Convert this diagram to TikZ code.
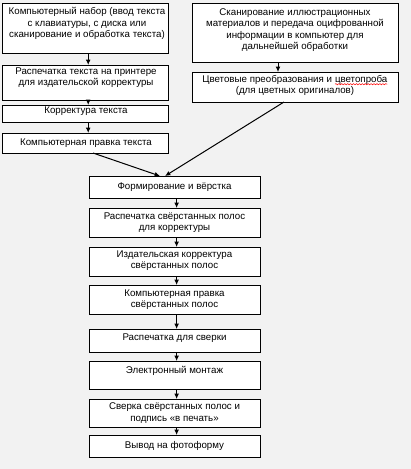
\documentclass[tikz,border=0pt]{standalone}
\usepackage{fontspec}
\setmainfont{Liberation Sans}
\usetikzlibrary{arrows.meta,decorations.pathmorphing}
\definecolor{bggray}{HTML}{F2F2F2}
\newcommand\redwave[1]{\tikz[baseline=(w.base)]{\node[inner sep=0pt,outer sep=0pt,font=\fontsize{7.3}{8.6}\selectfont] (w) {#1};\draw[red,line width=0.4pt,decorate,decoration={snake,amplitude=0.45pt,segment length=2.2pt}] ([yshift=-1.4pt]w.base west) -- ([yshift=-1.4pt]w.base east);}}
\tikzset{
  boxst/.style={draw=black,fill=white,line width=0.75pt,inner sep=0pt,outer sep=0pt},
  txt/.style={inner sep=0pt,align=center,font=\fontsize{7.3}{8.6}\selectfont},
  arr/.style={draw=black,line width=0.75pt,-{Latex[length=4pt,width=3.6pt]}}
}
\begin{document}
\begin{tikzpicture}[x=0.75pt,y=-0.75pt]
\fill[bggray] (0,0) rectangle (411,469);
\useasboundingbox (0,0) rectangle (411,469);
% left column
\node[boxst,minimum width=124.5pt,minimum height=37.5pt] (A) at (85,28) {};
\node[txt] (At) at (87,23.5) {Компьютерный набор (ввод текста\\с клавиатуры, с диска или\\сканирование и обработка текста)};
\node[boxst,minimum width=124.5pt,minimum height=26.25pt] (B) at (85,82.5) {};
\node[txt] (Bt) at (86,77.5) {Распечатка текста на принтере\\для издательской корректуры};
\node[boxst,minimum width=124.5pt,minimum height=12.75pt] (C) at (85,113.5) {};
\node[txt] (Ct) at (86,111) {Корректура текста};
\node[boxst,minimum width=124.5pt,minimum height=15pt] (D) at (85,143) {};
\node[txt] (Dt) at (86,143) {Компьютерная правка текста};
% right column
\node[boxst,minimum width=154.5pt,minimum height=44.25pt] (E) at (295,32.5) {};
\node[txt] (Et) at (295,30) {Сканирование иллюстрационных\\материалов и передача оцифрованной\\информации в компьютер для\\дальнейшей обработки};
\node[boxst,minimum width=154.5pt,minimum height=22.5pt] (F) at (295,87) {};
\node[txt] (Ft) at (295,85.5) {Цветовые преобразования и \redwave{цветопроба}\\(для цветных оригиналов)};
% middle column
\node[boxst,minimum width=128.25pt,minimum height=16.5pt] (G) at (174.5,187) {};
\node[txt] (Gt) at (174.5,187) {Формирование и вёрстка};
\node[boxst,minimum width=128.25pt,minimum height=21.75pt] (H) at (174.5,222.5) {};
\node[txt] (Ht) at (174.5,222.5) {Распечатка свёрстанных полос\\для корректуры};
\node[boxst,minimum width=128.25pt,minimum height=21.75pt] (I) at (174.5,261.5) {};
\node[txt] (It) at (174.5,260.5) {Издательская корректура\\свёрстанных полос};
\node[boxst,minimum width=128.25pt,minimum height=21.75pt] (J) at (174.5,299.5) {};
\node[txt] (Jt) at (174.5,299.5) {Компьютерная правка\\свёрстанных полос};
\node[boxst,minimum width=128.25pt,minimum height=17.25pt] (K) at (174.5,340.5) {};
\node[txt] (Kt) at (174.5,338.5) {Распечатка для сверки};
\node[boxst,minimum width=128.25pt,minimum height=21pt] (L) at (174.5,375) {};
\node[txt] (Lt) at (174.5,371) {Электронный монтаж};
\node[boxst,minimum width=128.25pt,minimum height=21pt] (M) at (174.5,413) {};
\node[txt] (Mt) at (174.5,413) {Сверка свёрстанных полос и\\подпись «в печать»};
\node[boxst,minimum width=128.25pt,minimum height=16.5pt] (N) at (174.5,446) {};
\node[txt] (Nt) at (174.5,446) {Вывод на фотоформу};
% arrows
\draw[arr] ([xshift=2.4pt]A.south) -- ([xshift=2.4pt]B.north);
\draw[arr] ([xshift=2.4pt]B.south) -- ([xshift=2.4pt]C.north);
\draw[arr] ([xshift=2.4pt]C.south) -- ([xshift=2.4pt]D.north);
\draw[arr] ([xshift=-12.75pt]E.south) -- ([xshift=-12.75pt]F.north);
\draw[arr] ([xshift=6pt]D.south) -- ([xshift=-10.9pt]G.north);
\draw[arr] ([xshift=-8.25pt]F.south) -- ([xshift=-7.1pt]G.north);
\foreach \a/\b in {G/H,H/I,I/J,J/K,K/L,L/M,M/N}
  \draw[arr] ([xshift=1.6pt]\a.south) -- ([xshift=1.6pt]\b.north);
\end{tikzpicture}
\end{document}
